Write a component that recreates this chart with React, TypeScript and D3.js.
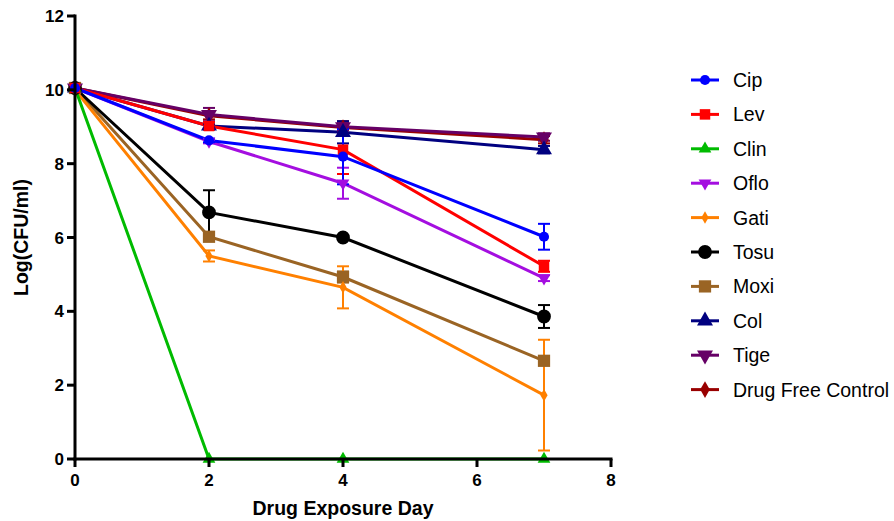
import React from 'react';
import * as d3 from 'd3';

// days sampled
const days = [0, 2, 4, 7];

const names = ['Cip', 'Lev', 'Clin', 'Oflo', 'Gati', 'Tosu', 'Moxi', 'Col', 'Tige', 'Drug Free Control'];

// log(CFU/ml) means, one array per drug
const cip = [10.05, 8.63, 8.19, 6.02];
const lev = [10.05, 9.02, 8.38, 5.22];
const clin = [10.05, 0, 0, 0];
const oflo = [10.05, 8.6, 7.47, 4.9];
const gati = [10.0, 5.5, 4.65, 1.73];
const tosu = [10.05, 6.68, 6.0, 3.86];
const moxi = [10.05, 6.02, 4.93, 2.66];
const col = [10.05, 9.02, 8.85, 8.38];
const tige = [10.05, 9.33, 9.0, 8.72];
const dfc = [10.05, 9.3, 8.98, 8.65];

// error bars (+/-)
const cipErr = [0, 0.05, 0.75, 0.35];
const levErr = [0, 0.1, 0.66, 0.15];
const clinErr = [0, 0, 0, 0];
const ofloErr = [0, 0.05, 0.42, 0.08];
const gatiErr = [0, 0.15, 0.57, 1.5];
const tosuErr = [0, 0.6, 0.05, 0.31];
const moxiErr = [0, 0.1, 0.15, 0.1];
const colErr = [0, 0.05, 0.3, 0.1];
const tigeErr = [0, 0.18, 0.1, 0.1];
const dfcErr = [0, 0.1, 0.17, 0.1];

const xTicks = [0, 2, 4, 6, 8];
const yTicks = [0, 2, 4, 6, 8, 10, 12];

const series = [
  { name: names[0], values: cip, err: cipErr, color: '#0000ff', shape: d3.symbolCircle, size: 80 },
  { name: names[1], values: lev, err: levErr, color: '#ff0000', shape: d3.symbolSquare, size: 110 },
  { name: names[2], values: clin, err: clinErr, color: '#00bb00', shape: d3.symbolTriangle, size: 70 },
  { name: names[3], values: oflo, err: ofloErr, color: '#a40ee0', shape: 'down', size: 70 },
  { name: names[4], values: gati, err: gatiErr, color: '#ff8000', shape: d3.symbolDiamond, size: 45 },
  { name: names[5], values: tosu, err: tosuErr, color: '#000000', shape: d3.symbolCircle, size: 150 },
  { name: names[6], values: moxi, err: moxiErr, color: '#9a6424', shape: d3.symbolSquare, size: 150 },
  { name: names[7], values: col, err: colErr, color: '#000080', shape: d3.symbolTriangle, size: 110 },
  { name: names[8], values: tige, err: tigeErr, color: '#660066', shape: 'down', size: 110 },
  { name: names[9], values: dfc, err: dfcErr, color: '#990000', shape: d3.symbolDiamond, size: 80 },
];

const margin = { left: 75, right: 283, top: 16, bottom: 62 };
const width = 894;
const height = 521;

const Marker = ({ s, x, y }) => {
  const down = s.shape === 'down';
  const path = d3.symbol().type(down ? d3.symbolTriangle : s.shape).size(s.size)();
  return (
    <path d={path} fill={s.color} transform={`translate(${x},${y})${down ? ' rotate(180)' : ''}`} />
  );
};

const App = () => {
  const xScale = d3.scaleLinear().domain([0, 8]).range([margin.left, width - margin.right]);
  const yScale = d3.scaleLinear().domain([0, 12]).range([height - margin.bottom, margin.top]);

  const line = d3.line().x((d, i) => xScale(days[i])).y(d => yScale(d));

  const x0 = xScale(0);
  const y0 = yScale(0);
  const drawOrder = [...series].reverse();

  return (
    <svg width={width} height={height} style={{ position: 'absolute', left: 0, top: 0 }}
      fontFamily="'Liberation Sans', Arial, sans-serif">
      {/* lines */}
      {drawOrder.map(s => (
        <path key={s.name + 'l'} d={line(s.values)} fill="none" stroke={s.color} strokeWidth={3} />
      ))}
      {/* error bars */}
      {drawOrder.map(s => (
        <g key={s.name + 'e'} stroke={s.color} strokeWidth={2}>
          {s.values.map((v, i) => s.err[i] > 0 && (
            <g key={i}>
              <line x1={xScale(days[i])} x2={xScale(days[i])} y1={yScale(v - s.err[i])} y2={yScale(v + s.err[i])} />
              <line x1={xScale(days[i]) - 6} x2={xScale(days[i]) + 6} y1={yScale(v - s.err[i])} y2={yScale(v - s.err[i])} />
              <line x1={xScale(days[i]) - 6} x2={xScale(days[i]) + 6} y1={yScale(v + s.err[i])} y2={yScale(v + s.err[i])} />
            </g>
          ))}
        </g>
      ))}
      {/* markers */}
      {drawOrder.map(s => (
        <g key={s.name + 'm'}>
          {s.values.map((v, i) => <Marker key={i} s={s} x={xScale(days[i])} y={yScale(v)} />)}
        </g>
      ))}

      {/* axes */}
      <g stroke="#000" strokeWidth={3}>
        <line x1={x0} x2={x0} y1={yScale(12) - 1.5} y2={y0 + 1.5} />
        <line x1={x0 - 1.5} x2={xScale(8) + 1.5} y1={y0} y2={y0} />
        {yTicks.map(t => <line key={t} x1={x0 - 8} x2={x0} y1={yScale(t)} y2={yScale(t)} />)}
        {xTicks.map(t => <line key={t} x1={xScale(t)} x2={xScale(t)} y1={y0} y2={y0 + 8} />)}
      </g>
      <g fontWeight="bold" fontSize={17} fill="#000">
        {yTicks.map(t => (
          <text key={t} x={x0 - 11} y={yScale(t)} dy="0.36em" textAnchor="end">{t}</text>
        ))}
        {xTicks.map(t => (
          <text key={t} x={xScale(t)} y={y0 + 27} textAnchor="middle">{t}</text>
        ))}
      </g>
      <text x={(xScale(0) + xScale(8)) / 2} y={515} textAnchor="middle" fontWeight="bold" fontSize={19.5}>
        Drug Exposure Day
      </text>
      <text transform={`translate(28, ${(yScale(0) + yScale(12)) / 2}) rotate(-90)`} textAnchor="middle"
        fontWeight="bold" fontSize={19.5}>
        Log(CFU/ml)
      </text>

      {/* legend */}
      {series.map((s, i) => {
        const ly = 80 + i * 34.4;
        return (
          <g key={s.name + 'g'}>
            <line x1={691} x2={719} y1={ly} y2={ly} stroke={s.color} strokeWidth={3} />
            <Marker s={s} x={705} y={ly} />
            <text x={733} y={ly} dy="0.36em" fontSize={19.5}>{s.name}</text>
          </g>
        );
      })}
    </svg>
  );
};

export default App;
